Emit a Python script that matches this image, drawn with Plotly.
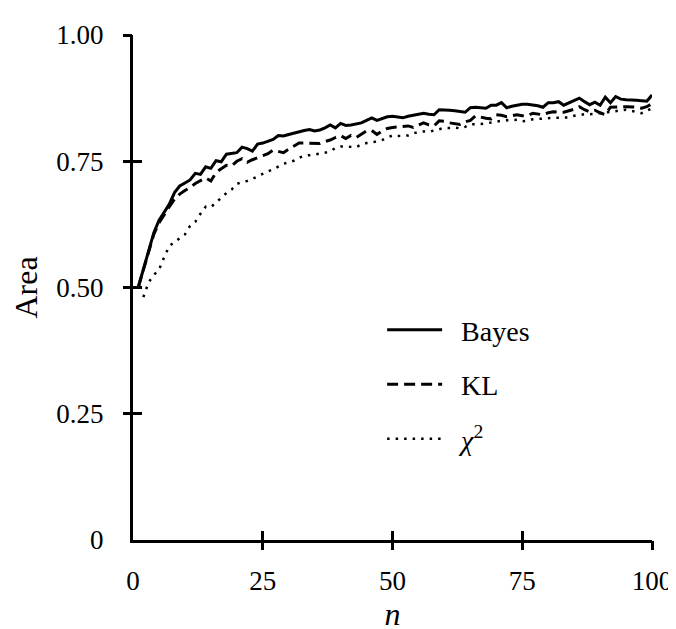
import plotly.graph_objects as go

# values
n_bayes = list(range(1, 101))
bayes = [
    0.500, 0.535, 0.575, 0.608, 0.633, 0.650, 0.665, 0.688, 0.701, 0.707,
    0.713, 0.726, 0.724, 0.739, 0.736, 0.751, 0.749, 0.764, 0.766, 0.767,
    0.778, 0.775, 0.770, 0.784, 0.786, 0.789, 0.793, 0.801, 0.800, 0.803,
    0.806, 0.808, 0.811, 0.813, 0.810, 0.812, 0.816, 0.822, 0.816, 0.825,
    0.821, 0.822, 0.824, 0.826, 0.831, 0.836, 0.831, 0.834, 0.838, 0.839,
    0.838, 0.836, 0.839, 0.841, 0.843, 0.845, 0.843, 0.842, 0.852, 0.852,
    0.851, 0.850, 0.849, 0.847, 0.856, 0.857, 0.856, 0.855, 0.861, 0.861,
    0.866, 0.856, 0.859, 0.861, 0.863, 0.863, 0.862, 0.860, 0.857, 0.866,
    0.866, 0.868, 0.861, 0.866, 0.870, 0.875, 0.868, 0.862, 0.867, 0.861,
    0.877, 0.866, 0.878, 0.873, 0.872, 0.872, 0.871, 0.870, 0.869, 0.881,
]

n_kl = list(range(1, 101))
kl = [
    0.500, 0.535, 0.575, 0.605, 0.628, 0.645, 0.660, 0.675, 0.685, 0.692,
    0.698, 0.706, 0.712, 0.717, 0.711, 0.728, 0.735, 0.742, 0.741, 0.750,
    0.755, 0.748, 0.753, 0.757, 0.761, 0.765, 0.772, 0.770, 0.767, 0.774,
    0.780, 0.786, 0.786, 0.786, 0.785, 0.785, 0.789, 0.792, 0.797, 0.801,
    0.795, 0.801, 0.797, 0.803, 0.810, 0.811, 0.803, 0.810, 0.815, 0.817,
    0.818, 0.819, 0.820, 0.817, 0.822, 0.826, 0.822, 0.820, 0.830, 0.829,
    0.826, 0.824, 0.823, 0.828, 0.831, 0.840, 0.837, 0.835, 0.834, 0.842,
    0.841, 0.838, 0.840, 0.842, 0.840, 0.840, 0.845, 0.843, 0.842, 0.846,
    0.848, 0.847, 0.847, 0.850, 0.853, 0.858, 0.852, 0.848, 0.851, 0.846,
    0.842, 0.857, 0.858, 0.858, 0.858, 0.858, 0.857, 0.855, 0.858, 0.864,
]

n_chi2 = list(range(2, 101))
chi2 = [
    0.481, 0.510, 0.525, 0.535, 0.560, 0.582, 0.590, 0.597, 0.605,
    0.622, 0.630, 0.646, 0.660, 0.659, 0.668, 0.677, 0.687, 0.694, 0.705,
    0.709, 0.711, 0.715, 0.720, 0.726, 0.730, 0.734, 0.740, 0.745, 0.748,
    0.751, 0.757, 0.761, 0.762, 0.763, 0.765, 0.767, 0.770, 0.776, 0.779,
    0.779, 0.779, 0.778, 0.783, 0.786, 0.787, 0.789, 0.792, 0.797, 0.801,
    0.800, 0.800, 0.801, 0.805, 0.808, 0.809, 0.808, 0.811, 0.814, 0.816,
    0.816, 0.817, 0.815, 0.818, 0.823, 0.823, 0.824, 0.825, 0.827, 0.829,
    0.830, 0.831, 0.831, 0.832, 0.829, 0.830, 0.833, 0.834, 0.834, 0.835,
    0.836, 0.836, 0.836, 0.837, 0.840, 0.842, 0.843, 0.843, 0.844, 0.845,
    0.846, 0.848, 0.849, 0.851, 0.852, 0.850, 0.848, 0.845, 0.850, 0.855,
]

x_ticks = [0, 25, 50, 75, 100]
x_labels = ["0", "25", "50", "75", "100"]
y_ticks = [0, 0.25, 0.5, 0.75, 1.0]
y_labels = ["0", "0.25", "0.50", "0.75", "1.00"]

fig = go.Figure()
fig.add_trace(go.Scatter(x=n_bayes, y=bayes, mode="lines",
                         name="&nbsp;&nbsp;Bayes", legendgroup="a",
                         line=dict(color="black", width=3)))
fig.add_trace(go.Scatter(x=n_kl, y=kl, mode="lines",
                         name="&nbsp;&nbsp;KL", legendgroup="b",
                         line=dict(color="black", width=3, dash="11px,6px")))
fig.add_trace(go.Scatter(x=n_chi2, y=chi2, mode="lines",
                         name="&nbsp;&nbsp;<i>χ</i><sup>2</sup>", legendgroup="c",
                         line=dict(color="black", width=2.5, dash="2.5px,6px")))

# empty traces so the tick-only overlay axes get drawn
for k in ("2", "3"):
    fig.add_trace(go.Scatter(x=[None], y=[None], xaxis="x" + k, yaxis="y" + k,
                             showlegend=False, hoverinfo="skip"))

# crossing ticks: one overlay axis ticks outside, the other inside
tick_common = dict(ticklen=9, tickwidth=2.5, tickcolor="black",
                   showticklabels=False, showline=False, showgrid=False,
                   zeroline=False)

fig.update_layout(
    width=676, height=629,
    margin=dict(l=125, r=23, t=16, b=81),
    paper_bgcolor="white", plot_bgcolor="white",
    font=dict(family="Liberation Serif", size=27, color="black"),
    showlegend=True,
    legend=dict(x=0.48, y=0.465, xanchor="left", yanchor="top",
                bgcolor="rgba(0,0,0,0)", itemwidth=55,
                tracegroupgap=15, font=dict(size=28)),
    # main axes carry the labels; white ticks only space the labels out
    xaxis=dict(range=[0, 100], tickvals=x_ticks, ticktext=x_labels,
               ticks="outside", ticklen=15, tickcolor="white",
               ticklabeloverflow="allow",
               showline=True, linewidth=3, linecolor="black",
               showgrid=False, zeroline=False,
               title=dict(text="<i>n</i>", standoff=6)),
    yaxis=dict(range=[0, 1], tickvals=y_ticks, ticktext=y_labels,
               ticks="outside", ticklen=21, tickcolor="white",
               showline=True, linewidth=3, linecolor="black",
               showgrid=False, zeroline=False,
               title=dict(text="Area", standoff=12)),
    xaxis2=dict(overlaying="x", anchor="y", side="bottom", range=[0, 100],
                tickvals=x_ticks[1:], ticks="outside", **tick_common),
    xaxis3=dict(overlaying="x", anchor="y", side="bottom", range=[0, 100],
                tickvals=x_ticks[1:], ticks="inside", **tick_common),
    yaxis2=dict(overlaying="y", anchor="x", side="left", range=[0, 1],
                tickvals=y_ticks[1:], ticks="outside", **tick_common),
    yaxis3=dict(overlaying="y", anchor="x", side="left", range=[0, 1],
                tickvals=y_ticks[1:], ticks="inside", **tick_common),
)

fig.write_html("out.html")
